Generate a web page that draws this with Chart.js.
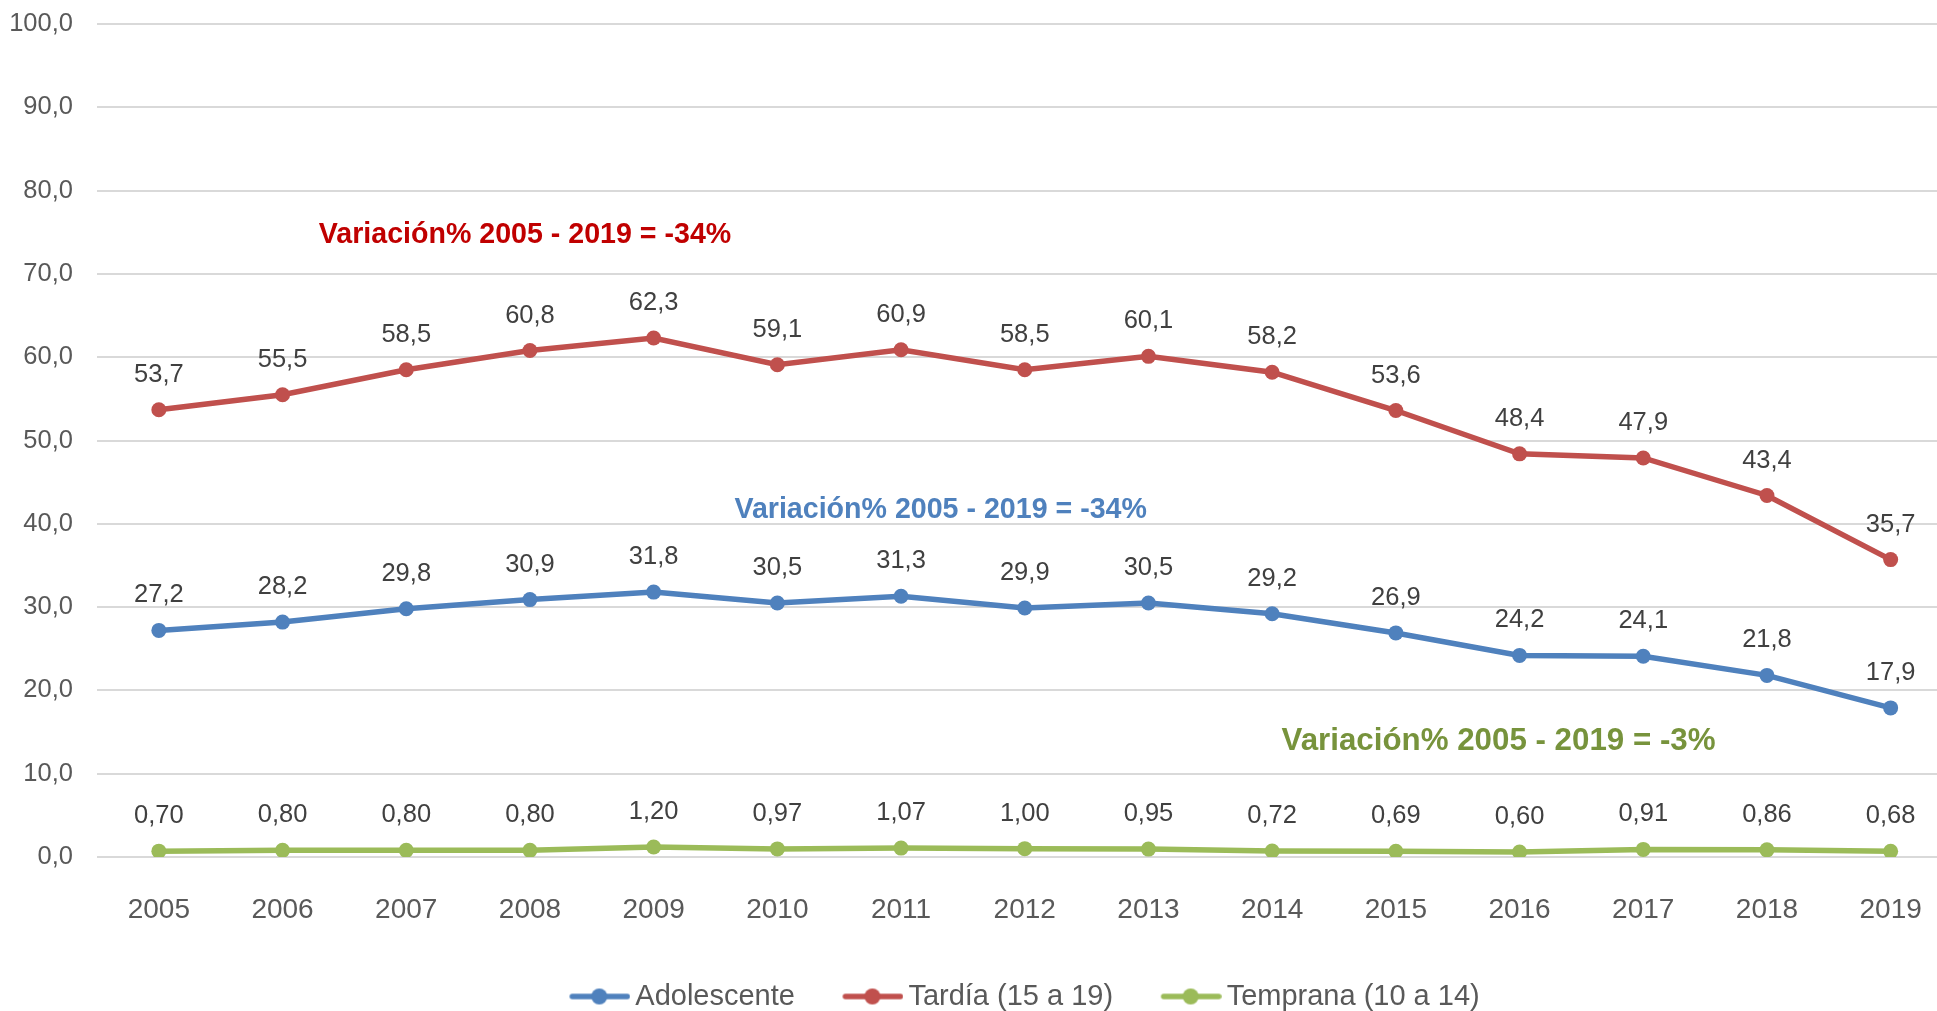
<!DOCTYPE html>
<html>
<head>
<meta charset="utf-8">
<script src="https://cdn.jsdelivr.net/npm/chart.js@4"></script>
<style>
  html, body { margin: 0; padding: 0; background: #fff; overflow: hidden; }
  #chart { display: block; }
</style>
</head>
<body>
<canvas id="chart" width="1960" height="1021"></canvas>
<script>
// Data
const years = ['2005', '2006', '2007', '2008', '2009', '2010', '2011', '2012', '2013', '2014', '2015', '2016', '2017', '2018', '2019'];
const adolescente = [27.2, 28.2, 29.8, 30.9, 31.8, 30.5, 31.3, 29.9, 30.5, 29.2, 26.9, 24.2, 24.1, 21.8, 17.9];
const tardia = [53.7, 55.5, 58.5, 60.8, 62.3, 59.1, 60.9, 58.5, 60.1, 58.2, 53.6, 48.4, 47.9, 43.4, 35.7];
const temprana = [0.70, 0.80, 0.80, 0.80, 1.20, 0.97, 1.07, 1.00, 0.95, 0.72, 0.69, 0.60, 0.91, 0.86, 0.68];
const seriesNames = ['Adolescente', 'Tardía (15 a 19)', 'Temprana (10 a 14)'];
const seriesDecimals = [1, 1, 2];
const yTicks = [0, 10, 20, 30, 40, 50, 60, 70, 80, 90, 100];

// Annotation texts, anchored in data space (category index, value)
const noteTexts = ['Variación% 2005 - 2019 = -34%', 'Variación% 2005 - 2019 = -34%', 'Variación% 2005 - 2019 = -3%'];
const noteX = [2.96, 6.32, 10.83];
const noteY = [74.7, 41.7, 13.9];

const colors = ['#4F81BD', '#C0504D', '#9BBB59'];
const noteColors = ['#C00000', '#4F81BD', '#77933C'];
const noteSizes = [28.6, 28.6, 31.3];
const FONT = '"Liberation Sans", Arial, sans-serif';

const fmt = (v, d) => v.toFixed(d).replace('.', ',');

// legend icon: line with a dot, drawn on a small canvas
function legendIcon(color) {
    const c = document.createElement('canvas');
    c.width = 70; c.height = 28;
    const g = c.getContext('2d');
    g.strokeStyle = color;
    g.lineWidth = 5.5;
    g.lineCap = 'round';
    g.beginPath();
    g.moveTo(12, 14);
    g.lineTo(67, 14);
    g.stroke();
    g.fillStyle = color;
    g.beginPath();
    g.arc(39, 14, 8, 0, Math.PI * 2);
    g.fill();
    return c;
}
const icons = colors.map(legendIcon);

const valueLabels = {
    id: 'valueLabels',
    afterDatasetsDraw(chart) {
        const ctx = chart.ctx;
        ctx.save();
        ctx.font = '25.5px ' + FONT;
        ctx.fillStyle = '#404040';
        ctx.textAlign = 'center';
        ctx.textBaseline = 'middle';
        chart.data.datasets.forEach((ds, i) => {
            const meta = chart.getDatasetMeta(i);
            meta.data.forEach((pt, j) => {
                ctx.fillText(fmt(ds.data[j], seriesDecimals[i]), pt.x, pt.y - 35);
            });
        });
        // variation notes
        const xs = chart.scales.x, ys = chart.scales.y;
        noteTexts.forEach((t, i) => {
            ctx.font = 'bold ' + noteSizes[i] + 'px ' + FONT;
            ctx.fillStyle = noteColors[i];
            ctx.fillText(t, xs.getPixelForValue(noteX[i]), ys.getPixelForValue(noteY[i]));
        });
        ctx.restore();
    }
};

const ctx = document.getElementById('chart').getContext('2d');
const chart = new Chart(ctx, {
    type: 'line',
    data: {
        labels: years,
        datasets: [adolescente, tardia, temprana].map((d, i) => ({
            label: seriesNames[i],
            data: d,
            borderColor: colors[i],
            backgroundColor: colors[i],
            borderWidth: 5.5,
            pointRadius: 7.5,
            pointHoverRadius: 7.5,
            pointBorderWidth: 0,
            tension: 0,
            fill: false
        }))
    },
    options: {
        responsive: false,
        animation: false,
        devicePixelRatio: 1,
        layout: { padding: { left: 0, right: 3, top: 24, bottom: 0 } },
        scales: {
            x: {
                offset: true,
                grid: { display: false },
                border: { display: false },
                ticks: { color: '#595959', font: { family: FONT, size: 28 }, padding: 28, maxRotation: 0 },
                afterFit: s => { s.height = 77; }
            },
            y: {
                min: 0,
                max: 100,
                afterBuildTicks: s => { s.ticks = yTicks.map(v => ({ value: v })); },
                grid: { color: '#D9D9D9', lineWidth: 2, drawTicks: false },
                border: { display: false },
                ticks: {
                    color: '#595959',
                    font: { family: FONT, size: 25.5 },
                    padding: 24,
                    callback: v => fmt(v, 1)
                },
                afterFit: s => { s.width = 97; s.paddingTop = 15; s.paddingBottom = 15; }
            }
        },
        plugins: {
            tooltip: { enabled: false },
            legend: {
                position: 'bottom',
                fullSize: false,
                labels: {
                    usePointStyle: true,
                    pointStyleWidth: 51,
                    padding: 48,
                    color: '#595959',
                    font: { family: FONT, size: 29 },
                    generateLabels: c => {
                        const items = Chart.defaults.plugins.legend.labels.generateLabels(c);
                        items.forEach((it, i) => { it.pointStyle = icons[i]; });
                        return items;
                    }
                }
            }
        }
    },
    plugins: [valueLabels]
});
</script>
</body>
</html>
